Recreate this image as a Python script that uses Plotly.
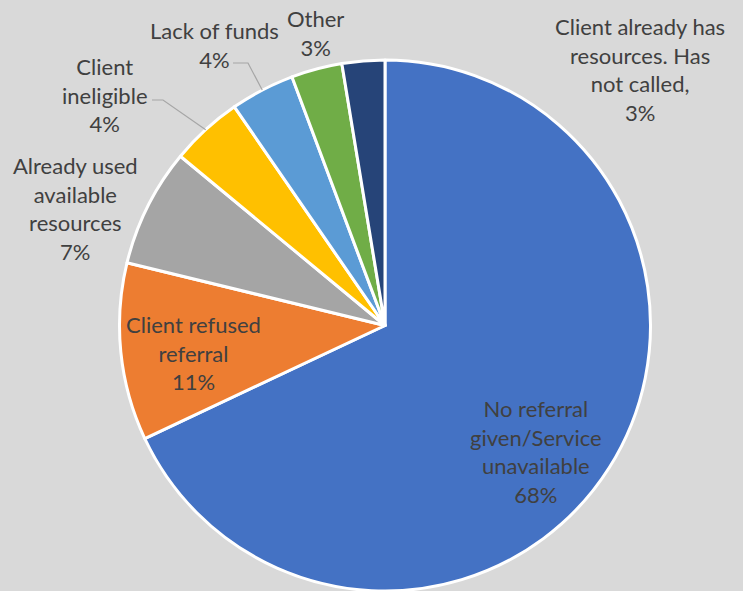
import math
import plotly.graph_objects as go

# ---- data ----
categories = [
    "No referral given/Service unavailable",
    "Client refused referral",
    "Already used available resources",
    "Client ineligible",
    "Lack of funds",
    "Other",
    "Client already has resources. Has not called,",
]
values = [68.0, 10.8, 7.2, 4.4, 3.9, 3.1, 2.6]
label_text = [
    "No referral<br>given/Service<br>unavailable",
    "Client refused<br>referral",
    "Already used<br>available<br>resources",
    "Client<br>ineligible",
    "Lack of funds",
    "Other",
    "Client already has<br>resources. Has<br>not called,",
]
colors = ["#4472C4", "#ED7D31", "#A5A5A5", "#FFC000", "#5B9BD5", "#70AD47", "#264478"]

# ---- layout ----
W, H = 743, 591
CX, TOP = 385, 60
HALF_W = 300
dom_x = [(CX - HALF_W) / W, (CX + HALF_W) / W]
dom_y = [0, 1 - TOP / H]
R = min(2 * HALF_W, H - TOP) / 2
CY = TOP + R

# label block centres in pixels
label_pos = {
    0: (536, 451),
    1: (193, 353),
    2: (75, 208),
    3: (105, 95),
    4: (214, 45),
    5: (315, 33),
    6: (640, 69),
}
# leader line starts (pixels): label side points
leaders = {
    3: [(152, 100), (163, 100)],
    4: [(233, 63), (248, 63)],
}

TEXT_COLOR = "#404040"
FONT = "Lato"
FSIZE = 22


def px(x, y):
    return x / W, 1 - y / H


fig = go.Figure(
    go.Pie(
        labels=categories,
        values=values,
        sort=False,
        direction="clockwise",
        rotation=0,
        marker=dict(colors=colors, line=dict(color="white", width=3)),
        textinfo="none",
        hoverinfo="label+percent",
        domain=dict(x=dom_x, y=dom_y),
        showlegend=False,
    )
)

total = sum(values)
annotations = []
shapes = []
cum = 0.0
for i, v in enumerate(values):
    pct = int(v / total * 100 + 0.5)
    mid = (cum + v / 2) / total * 2 * math.pi
    cum += v
    lx, ly = label_pos[i]
    ax_, ay_ = px(lx, ly)
    annotations.append(
        dict(
            x=ax_, y=ay_, xref="paper", yref="paper",
            text=f"{label_text[i]}<br>{pct}%",
            showarrow=False, xanchor="center", yanchor="middle",
            font=dict(family=FONT, size=FSIZE, color=TEXT_COLOR),
            align="center",
        )
    )
    if i in leaders:
        ex = CX + R * math.sin(mid)
        ey = CY - R * math.cos(mid)
        pts = [px(*p) for p in leaders[i]] + [px(ex, ey)]
        path = "M " + " L ".join(f"{a},{b}" for a, b in pts)
        shapes.append(
            dict(type="path", path=path, xref="paper", yref="paper",
                 line=dict(color="#A6A6A6", width=1.2))
        )

fig.update_layout(
    width=W, height=H,
    margin=dict(l=0, r=0, t=0, b=0),
    paper_bgcolor="#D9D9D9",
    plot_bgcolor="#D9D9D9",
    annotations=annotations,
    shapes=shapes,
)

fig.write_html(
    "out.html",
    config={"displayModeBar": False},
    post_script="document.body.style.margin='0';document.body.style.overflow='hidden';",
)
